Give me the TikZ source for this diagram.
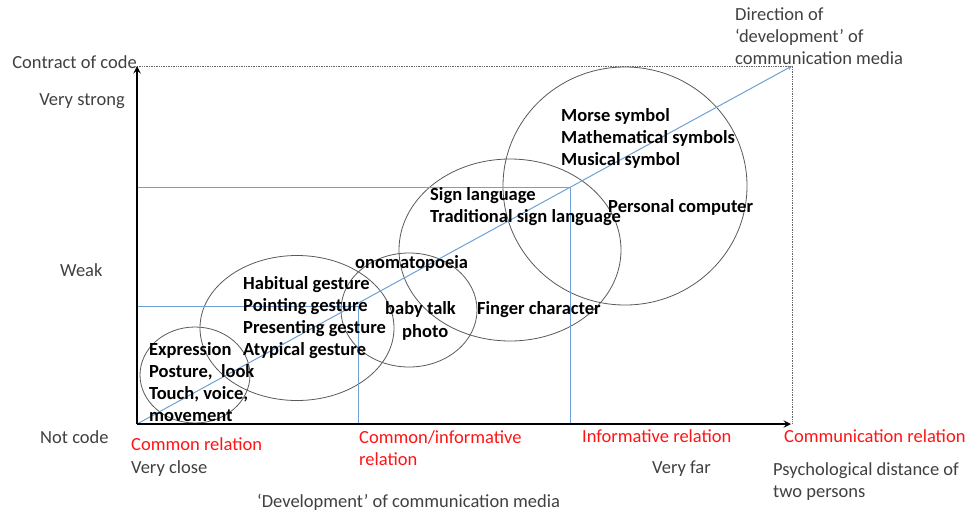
\documentclass[tikz,border=0pt]{standalone}
\usepackage{fontspec}
\setmainfont{Carlito}
\usetikzlibrary{shapes.geometric,arrows,positioning}
\definecolor{lineblue}{RGB}{110,160,215}
\definecolor{labelgray}{RGB}{64,64,64}
\definecolor{relred}{RGB}{255,20,20}
\tikzstyle{media} = [ellipse, draw=black!65, line width=0.8pt, inner sep=0pt]
\tikzstyle{item} = [font=\fontsize{18.5}{22}\selectfont\bfseries, align=left, anchor=base west, inner sep=0pt, text=black]
\tikzstyle{axislabel} = [font=\fontsize{18.5}{22}\selectfont, align=left, anchor=base west, inner sep=0pt, text=labelgray]
\tikzstyle{relation} = [axislabel, text=relred]
\tikzstyle{axis} = [line width=2.2pt,->,>=stealth]
\tikzstyle{guide} = [lineblue, line width=1pt]
\tikzstyle{frame} = [black!60, densely dotted, line width=0.7pt]
\begin{document}
\begin{tikzpicture}[x=1pt,y=-1pt]
\useasboundingbox (0,0) rectangle (971,512);

\coordinate (origin) at (137,424);
\coordinate (ytip) at (137,66);
\coordinate (xtip) at (791,424);
\coordinate (corner) at (792,66);
\coordinate (strongend) at (570,187);
\coordinate (weakend) at (358,306);

% media ellipses
\node (close) [media, minimum width=110, minimum height=96] at (195,375) {};
\node (gesture) [media, minimum width=194, minimum height=145] at (297,328) {};
\node (talk) [media, minimum width=136, minimum height=114] at (409,310) {};
\node (sign) [media, minimum width=222, minimum height=182] at (510,250) {};
\node (symbol) [media, minimum width=244, minimum height=238] at (625,186) {};

% guide lines
\draw [guide] (origin |- strongend) -- (strongend) -- (strongend |- origin);
\draw [guide] (origin |- weakend) -- (weakend) -- (weakend |- origin);
\draw [guide,->,>=stealth] (origin) -- (corner);
\draw [frame] (ytip) -- (corner) -- (corner |- origin);

%axes
\draw [axis] (origin) -- (ytip);
\draw [axis] (origin) -- (xtip);

% contents (multi-line nodes sit on the baseline of their last line)
\node (expr) [item] at (149,421) {Expression\\Posture,~ look\\Touch, voice,\\movement};
\node (habit) [item] at (243,355) {Habitual gesture\\Pointing gesture\\Presenting gesture\\Atypical gesture};
\node (onoma) [item] at (355,268) {onomatopoeia};
\node (baby) [item] at (385,314) {baby talk};
\node (photo) [item] at (402,337) {photo};
\node (finger) [item] at (477,314) {Finger character};
\node (signl) [item] at (430,222) {Sign language\\Traditional sign language};
\node (morse) [item] at (561,165) {Morse symbol\\Mathematical symbols\\Musical symbol};
\node (pc) [item] at (608,212) {Personal computer};

% axis labels
\node (contract) [axislabel, anchor=base east] at (137,68) {Contract of code};
\node (strong) [axislabel, anchor=base east] at (125,105) {Very strong};
\node (weak) [axislabel] at (60,276) {Weak};
\node (notcode) [axislabel] at (40,443) {Not code};
\node (common) [relation] at (131,450) {Common relation};
\node (veryclose) [axislabel] at (131,473) {Very close};
\node (commoninfo) [relation] at (359,465) {Common/informative\\relation};
\node (info) [relation] at (582,442) {Informative relation};
\node (comm) [relation] at (784,442) {Communication relation};
\node (veryfar) [axislabel] at (652,473) {Very far};
\node (distance) [axislabel] at (773,497) {Psychological distance of\\two persons};
\node (devel) [axislabel] at (257,507) {‘Development’ of communication media};
\node (direction) [axislabel] at (735,64) {Direction of\\‘development’ of\\communication media};

\end{tikzpicture}
\end{document}
